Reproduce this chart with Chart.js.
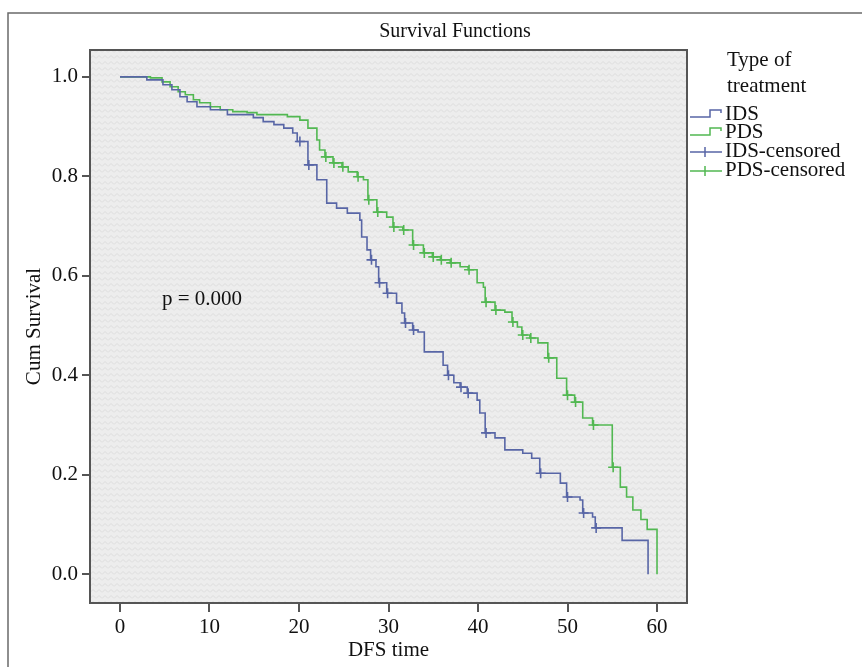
<!DOCTYPE html>
<html>
<head>
<meta charset="utf-8">
<script src="https://cdn.jsdelivr.net/npm/chart.js@4.4.1/dist/chart.umd.min.js"></script>
<style>
  html, body { margin: 0; padding: 0; background: #fff; }
  #wrap { width: 862px; height: 667px; position: relative; }
</style>
</head>
<body>
<div id="wrap"><canvas id="km"></canvas></div>
<script>
const xTicks = [0, 10, 20, 30, 40, 50, 60];
const yTicks = [0, 0.2, 0.4, 0.6, 0.8, 1.0];

// IDS: time of each step and survival after it
const idsTime = [0, 3.0, 4.8, 5.8, 6.7, 7.5, 8.6, 10.1, 12.0, 14.9, 16.0, 17.2, 18.3, 19.3, 19.8, 21.0, 22.0, 23.1, 24.2, 25.4,
  26.8, 27.0, 27.6, 28.0, 28.6, 28.9, 29.8, 30.9, 31.5, 31.8, 32.7, 33.3, 34.0, 36.1, 36.6, 37.3, 38.0, 38.8, 39.9, 40.2,
  40.8, 41.9, 43.0, 45.0, 46.0, 46.9, 49.2, 49.9, 51.4, 51.7, 52.8, 53.1, 56.1, 59.0];
const idsSurv = [1.0, 0.994, 0.984, 0.974, 0.96, 0.95, 0.94, 0.934, 0.924, 0.918, 0.91, 0.904, 0.897, 0.887, 0.87, 0.823, 0.793, 0.746, 0.736, 0.726,
  0.712, 0.678, 0.652, 0.632, 0.618, 0.586, 0.565, 0.545, 0.525, 0.505, 0.491, 0.487, 0.447, 0.42, 0.40, 0.385, 0.376, 0.364, 0.35, 0.324,
  0.284, 0.274, 0.25, 0.243, 0.233, 0.203, 0.183, 0.155, 0.149, 0.123, 0.115, 0.093, 0.068, 0.0];
const idsCensTime = [20.1, 21.1, 28.1, 29.0, 29.9, 31.9, 32.8, 36.7, 38.1, 38.9, 40.9, 47.0, 50.0, 51.8, 53.2];
const idsCensSurv = [0.87, 0.823, 0.632, 0.586, 0.565, 0.505, 0.491, 0.40, 0.376, 0.364, 0.284, 0.203, 0.155, 0.123, 0.093];

// PDS
const pdsTime = [0, 3.4, 4.7, 5.6, 6.5, 7.3, 8.2, 8.9, 10.1, 11.2, 12.6, 14.2, 15.3, 18.7, 20.1, 21.0, 22.0, 22.3, 22.9, 23.8,
  24.8, 25.5, 26.5, 27.2, 27.7, 28.7, 29.8, 30.5, 31.6, 32.7, 33.9, 34.9, 35.8, 36.9, 38.0, 38.9, 39.9, 40.6, 40.8, 41.9,
  43.0, 43.8, 44.4, 44.9, 45.8, 46.7, 47.8, 48.8, 49.9, 50.8, 51.7, 52.8, 55.0, 55.9, 56.6, 57.3, 58.2, 58.9, 60.0];
const pdsSurv = [1.0, 0.998, 0.99, 0.98, 0.97, 0.964, 0.954, 0.948, 0.94, 0.934, 0.93, 0.928, 0.924, 0.92, 0.913, 0.897, 0.873, 0.853, 0.839, 0.827,
  0.819, 0.809, 0.799, 0.793, 0.753, 0.728, 0.718, 0.698, 0.692, 0.662, 0.646, 0.638, 0.632, 0.626, 0.618, 0.612, 0.586, 0.577, 0.547, 0.531,
  0.527, 0.507, 0.497, 0.481, 0.475, 0.465, 0.435, 0.394, 0.36, 0.346, 0.314, 0.30, 0.215, 0.175, 0.155, 0.129, 0.11, 0.09, 0.0];
const pdsCensTime = [23.0, 23.9, 24.9, 26.6, 27.8, 28.8, 30.6, 31.7, 32.8, 34.0, 35.0, 35.9, 37.0, 39.0, 40.9, 42.0, 43.9, 45.0, 45.9, 47.9, 50.0, 50.9, 52.9, 55.1];
const pdsCensSurv = [0.839, 0.827, 0.819, 0.799, 0.753, 0.728, 0.698, 0.692, 0.662, 0.646, 0.638, 0.632, 0.626, 0.612, 0.547, 0.531, 0.507, 0.481, 0.475, 0.435, 0.36, 0.346, 0.30, 0.215];

const IDS_COLOR = '#5866a6';
const PDS_COLOR = '#52b852';
const SERIF = '"Liberation Serif", "Times New Roman", serif';

const pts = (xs, ys) => xs.map((x, i) => ({ x, y: ys[i] }));

// grey SPSS-like texture for the plot area
const pc = document.createElement('canvas');
pc.width = 6; pc.height = 6;
const pctx = pc.getContext('2d');
pctx.fillStyle = '#ededed';
pctx.fillRect(0, 0, 6, 6);
pctx.strokeStyle = '#dcdcdc';
pctx.lineWidth = 1;
pctx.beginPath();
pctx.moveTo(0, 4.5); pctx.lineTo(3, 1.5); pctx.lineTo(6, 4.5);
pctx.stroke();

const decor = {
  id: 'decor',
  beforeDraw(chart) {
    const { ctx, chartArea: a } = chart;
    ctx.save();
    ctx.fillStyle = '#fff';
    ctx.fillRect(0, 0, chart.width, chart.height);
    ctx.strokeStyle = '#6a6a6a';
    ctx.lineWidth = 1.5;
    ctx.strokeRect(8, 13, chart.width + 20, chart.height + 20);
    ctx.fillStyle = ctx.createPattern(pc, 'repeat');
    ctx.fillRect(a.left, a.top, a.right - a.left, a.bottom - a.top);
    ctx.restore();
  },
  afterDraw(chart) {
    const { ctx, chartArea: a } = chart;
    ctx.save();
    ctx.strokeStyle = '#555';
    ctx.lineWidth = 2;
    ctx.strokeRect(a.left, a.top, a.right - a.left, a.bottom - a.top);

    ctx.fillStyle = '#111';
    ctx.font = '20px ' + SERIF;
    ctx.textAlign = 'center';
    ctx.textBaseline = 'alphabetic';
    ctx.fillText('Survival Functions', 455, 37);

    ctx.textAlign = 'left';
    ctx.font = '21px ' + SERIF;
    ctx.fillText('p = 0.000', 162, 305);

    // legend
    ctx.font = '21px ' + SERIF;
    ctx.fillText('Type of', 727, 66);
    ctx.fillText('treatment', 727, 92);
    const entries = [
      { text: 'IDS', color: IDS_COLOR, kind: 'step', b: 120 },
      { text: 'PDS', color: PDS_COLOR, kind: 'step', b: 138 },
      { text: 'IDS-censored', color: IDS_COLOR, kind: 'cens', b: 157 },
      { text: 'PDS-censored', color: PDS_COLOR, kind: 'cens', b: 176 }
    ];
    entries.forEach(e => {
      ctx.strokeStyle = e.color;
      ctx.lineWidth = 1.5;
      ctx.beginPath();
      if (e.kind === 'step') {
        ctx.moveTo(690, e.b - 3); ctx.lineTo(710, e.b - 3);
        ctx.lineTo(710, e.b - 10); ctx.lineTo(721, e.b - 10); ctx.lineTo(721, e.b - 7);
      } else {
        ctx.moveTo(690, e.b - 5); ctx.lineTo(722, e.b - 5);
        ctx.moveTo(705, e.b - 10); ctx.lineTo(705, e.b);
      }
      ctx.stroke();
      ctx.fillStyle = '#111';
      ctx.fillText(e.text, 725, e.b);
    });
    ctx.restore();
  }
};

const tickFont = { family: SERIF, size: 21 };

new Chart(document.getElementById('km').getContext('2d'), {
  type: 'line',
  data: {
    datasets: [
      { label: 'IDS', data: pts(idsTime, idsSurv), stepped: 'before', borderColor: IDS_COLOR, borderWidth: 1.6, pointRadius: 0, fill: false },
      { label: 'PDS', data: pts(pdsTime, pdsSurv), stepped: 'before', borderColor: PDS_COLOR, borderWidth: 1.6, pointRadius: 0, fill: false },
      { label: 'IDS-censored', data: pts(idsCensTime, idsCensSurv), showLine: false, pointStyle: 'cross', pointRadius: 5, borderColor: IDS_COLOR, borderWidth: 1.6 },
      { label: 'PDS-censored', data: pts(pdsCensTime, pdsCensSurv), showLine: false, pointStyle: 'cross', pointRadius: 5, borderColor: PDS_COLOR, borderWidth: 1.6 }
    ]
  },
  options: {
    responsive: true, maintainAspectRatio: false, animation: false,
    layout: { padding: { left: 0, right: 175, top: 50, bottom: 0 } },
    plugins: { legend: { display: false }, title: { display: false }, tooltip: { enabled: false } },
    scales: {
      x: {
        type: 'linear', min: -3.35, max: 63.35,
        afterBuildTicks: s => { s.ticks = xTicks.map(v => ({ value: v })); },
        afterFit: s => { s.height = 64; },
        grid: { drawOnChartArea: false, tickLength: 9, color: '#555', lineWidth: 2 },
        border: { display: false },
        ticks: { font: tickFont, color: '#111', padding: 3, maxRotation: 0 },
        title: { display: true, text: 'DFS time', font: tickFont, color: '#111', padding: { top: 0, bottom: 4 } }
      },
      y: {
        type: 'linear', min: -0.058, max: 1.054,
        afterBuildTicks: s => { s.ticks = yTicks.map(v => ({ value: v })); },
        afterFit: s => { s.width = 90; },
        grid: { drawOnChartArea: false, tickLength: 8, color: '#555', lineWidth: 2 },
        border: { display: false },
        ticks: { font: tickFont, color: '#111', padding: 4, callback: v => v.toFixed(1) },
        title: { display: true, text: 'Cum Survival', font: tickFont, color: '#111', padding: { top: 22 } }
      }
    }
  },
  plugins: [decor]
});
</script>
</body>
</html>
